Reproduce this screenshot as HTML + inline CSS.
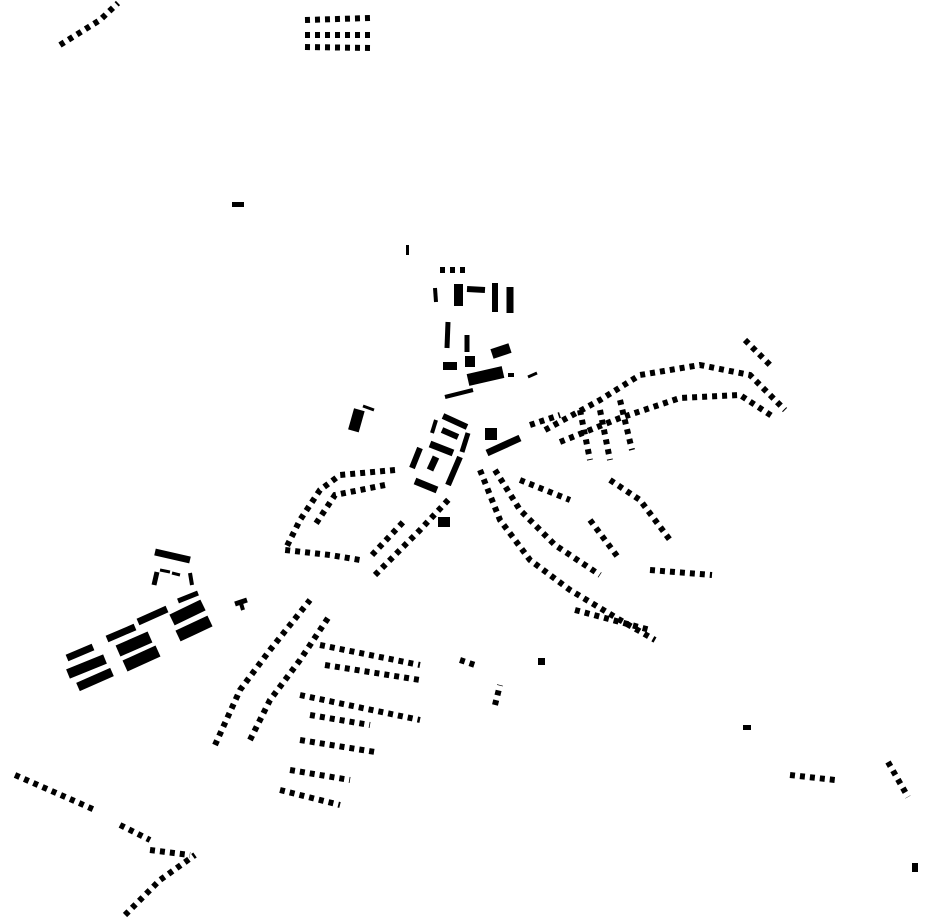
<!DOCTYPE html>
<html><head><meta charset="utf-8"><style>
html,body{margin:0;padding:0;background:#fff;}
svg{display:block;}
.r path{fill:none;stroke:#000;}
.l line{stroke:#000;}
</style></head><body>
<svg width="930" height="924" viewBox="0 0 930 924" xmlns="http://www.w3.org/2000/svg">
<g class="l">
<!-- SW slabs -->
<line x1="67" y1="658" x2="93" y2="647" stroke-width="7"/>
<line x1="68" y1="674" x2="105" y2="659" stroke-width="10"/>
<line x1="78" y1="687" x2="112" y2="672" stroke-width="9"/>
<line x1="107" y1="639" x2="135" y2="627" stroke-width="7"/>
<line x1="118" y1="651" x2="150" y2="637" stroke-width="12"/>
<line x1="125" y1="666" x2="158" y2="651" stroke-width="12"/>
<line x1="138" y1="622" x2="167" y2="609" stroke-width="7"/>
<line x1="172" y1="620" x2="203" y2="605" stroke-width="12"/>
<line x1="178" y1="636" x2="210" y2="621" stroke-width="12"/>
<line x1="178" y1="601" x2="198" y2="593" stroke-width="5"/>
<line x1="155" y1="552" x2="190" y2="560" stroke-width="7"/>
<line x1="157" y1="572" x2="154" y2="585" stroke-width="5"/>
<line x1="160" y1="570" x2="170" y2="572" stroke-width="3"/>
<line x1="172" y1="573" x2="180" y2="575" stroke-width="3"/>
<line x1="190" y1="573" x2="192" y2="585" stroke-width="4"/>
<line x1="235" y1="604" x2="247" y2="600" stroke-width="5"/>
<line x1="240" y1="600" x2="243" y2="610" stroke-width="4"/>
<!-- ring -->
<line x1="443" y1="416" x2="467" y2="427" stroke-width="6"/>
<line x1="442" y1="430" x2="458" y2="437" stroke-width="6"/>
<line x1="436" y1="420" x2="432" y2="433" stroke-width="4"/>
<line x1="430" y1="444" x2="453" y2="453" stroke-width="7"/>
<line x1="468" y1="433" x2="462" y2="452" stroke-width="5"/>
<line x1="420" y1="448" x2="412" y2="468" stroke-width="6"/>
<line x1="436" y1="457" x2="430" y2="470" stroke-width="7"/>
<line x1="460" y1="457" x2="448" y2="485" stroke-width="6"/>
<line x1="415" y1="481" x2="437" y2="490" stroke-width="7"/>
<line x1="352" y1="410" x2="361" y2="430" stroke-width="11" transform="rotate(40 356 420)"/>
<line x1="363" y1="406" x2="374" y2="410" stroke-width="3"/>
<line x1="487" y1="453" x2="520" y2="438" stroke-width="7"/>
<line x1="445" y1="397" x2="473" y2="390" stroke-width="4"/>
<line x1="468" y1="380" x2="503" y2="372" stroke-width="12"/>
<line x1="492" y1="354" x2="510" y2="348" stroke-width="10"/>
<line x1="528" y1="377" x2="537" y2="373" stroke-width="3"/>
<line x1="455" y1="297" x2="484" y2="290" stroke-width="0"/>
<line x1="467" y1="289" x2="485" y2="290" stroke-width="6"/>
<line x1="495" y1="283" x2="495" y2="312" stroke-width="6"/>
<line x1="510" y1="287" x2="510" y2="313" stroke-width="7"/>
<line x1="435" y1="288" x2="436" y2="302" stroke-width="4"/>
<line x1="448" y1="322" x2="447" y2="348" stroke-width="5"/>
<line x1="467" y1="335" x2="467" y2="352" stroke-width="5"/>
</g>
<g fill="#000">
<rect x="485" y="428" width="12" height="12"/>
<rect x="454" y="284" width="9" height="22"/>
<rect x="443" y="362" width="14" height="8"/>
<rect x="465" y="356" width="10" height="11"/>
<rect x="508" y="373" width="6" height="4"/>
<rect x="438" y="517" width="12" height="10"/>
<rect x="406" y="245" width="3" height="10"/>
<rect x="232" y="202" width="12" height="5"/>
<rect x="912" y="863" width="6" height="9"/>
<rect x="538" y="658" width="7" height="7"/>
<rect x="743" y="725" width="8" height="5"/>
</g>
<g class="r">
<g stroke-width="6" stroke-dasharray="5 5">
<path d="M545 430 L600 400 L640 375 L700 365 L750 375 L785 410"/>
<path d="M560 442 L620 418 L680 398 L740 395 L775 418"/>
<path d="M745 340 L770 365"/>
<path d="M480 470 L500 520 L530 560 L570 590 L620 620 L655 640"/>
<path d="M495 470 L520 510 L555 545 L600 575"/>
<path d="M520 480 L570 500"/>
<path d="M610 480 L640 500 L670 540"/>
<path d="M590 520 L620 560"/>
<path d="M650 570 L712 575"/>
<path d="M575 610 L650 630"/>
<path d="M600 410 L610 460"/>
<path d="M620 400 L632 450"/>
<path d="M580 410 L590 460"/>
<path d="M395 470 L340 475 L320 490 L300 520 L285 550 L330 555 L360 560"/>
<path d="M385 485 L335 495 L315 525"/>
<path d="M375 575 L420 530 L450 498"/>
<path d="M372 555 L405 520"/>
<path d="M215 745 L240 690 L270 650 L310 600"/>
<path d="M250 740 L270 700 L300 660 L330 615"/>
<path d="M320 645 L420 665"/>
<path d="M325 665 L420 680"/>
<path d="M300 695 L420 720"/>
<path d="M310 715 L370 725"/>
<path d="M300 740 L375 752"/>
<path d="M290 770 L350 780"/>
<path d="M280 790 L340 805"/>
<path d="M15 775 L95 810"/>
<path d="M120 825 L150 840"/>
<path d="M150 850 L190 855"/>
<path d="M125 915 L160 880 L195 855"/>
<path d="M60 45 L100 20 L118 3"/>
<path d="M305 20 L370 18"/>
<path d="M305 35 L370 35"/>
<path d="M305 47 L370 48"/>
<path d="M790 775 L835 780"/>
<path d="M888 762 L908 797"/>
<path d="M440 270 L470 270"/>
<path d="M530 425 L560 415"/>
<path d="M460 660 L475 665"/>
<path d="M495 705 L500 685"/>
</g>
</g>
</svg>
</body></html>
